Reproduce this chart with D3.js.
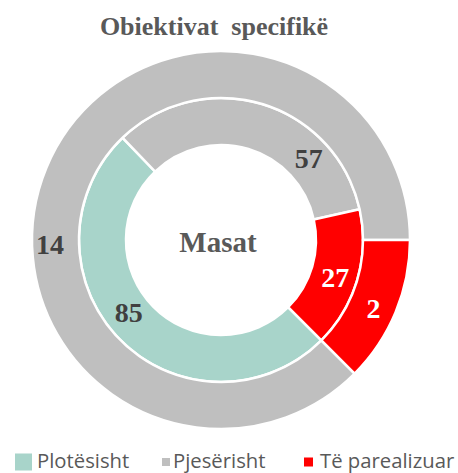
<!DOCTYPE html>
<html>
<head>
<meta charset="utf-8">
<script src="https://cdn.jsdelivr.net/npm/d3@7/dist/d3.min.js"></script>
<style>
  html, body { margin: 0; padding: 0; background: #fff; }
  svg { display: block; }
</style>
</head>
<body>
<svg id="chart" width="458" height="473"></svg>
<script>
// ---- data ----
const categories = ["Plotësisht", "Pjesërisht", "Të parealizuar"];
const innerValues = [85, 57, 27];   // Masat
const outerValues = [0, 14, 2];     // Obiektivat specifikë
const titleText = "Obiektivat  specifikë";
const centerText = "Masat";

// ---- layout / style config ----
const colors = ["#A8D4CA", "#BFBFBF", "#FF0000"];
const labelColors = ["#404040", "#404040", "#FFFFFF"];
const cx = 221, cy = 240;
const rHole = 95, rMid = 142, rOuter = 189;
const startDeg = 135;
// manual label placement (angle in degrees clockwise from top, radius)
const innerLabelPlace = [[232, 117], [47, 120], [108, 120]];
const outerLabelPlace = [null, [268.7, 171], [114, 167]];

const svg = d3.select("#chart");
const g = svg.append("g").attr("transform", `translate(${cx},${cy})`);

const rad = d => d * Math.PI / 180;
const pie = d3.pie().sort(null).value(d => d)
  .startAngle(rad(startDeg)).endAngle(rad(startDeg) + 2 * Math.PI);

function ring(values, r0, r1, places) {
  const arc = d3.arc().innerRadius(r0).outerRadius(r1);
  const arcs = pie(values);
  g.append("g").selectAll("path").data(arcs).join("path")
    .attr("d", arc)
    .attr("fill", (d, i) => colors[i])
    .attr("stroke", "#fff")
    .attr("stroke-width", d => d.value > 0 ? 2.5 : 0);
  g.append("g").selectAll("text").data(arcs.filter(d => d.value > 0)).join("text")
    .attr("transform", d => {
      const p = places[d.index];
      const pt = p ? d3.pointRadial(rad(p[0]), p[1]) : arc.centroid(d);
      return `translate(${pt[0]},${pt[1]})`;
    })
    .attr("text-anchor", "middle")
    .attr("dy", "0.35em")
    .attr("font-family", "'Liberation Serif', 'Times New Roman', serif")
    .attr("font-weight", "bold")
    .attr("font-size", 28)
    .attr("fill", d => labelColors[d.index])
    .text(d => d.value);
}

ring(innerValues, rHole, rMid, innerLabelPlace);
ring(outerValues, rMid, rOuter, outerLabelPlace);

// center label
g.append("text")
  .attr("x", -3).attr("y", 2)
  .attr("text-anchor", "middle").attr("dy", "0.35em")
  .attr("font-family", "'Liberation Serif', 'Times New Roman', serif")
  .attr("font-weight", "bold").attr("font-size", 29)
  .attr("fill", "#595959")
  .text(centerText);

// title
svg.append("text")
  .attr("x", 214).attr("y", 35)
  .attr("text-anchor", "middle")
  .attr("xml:space", "preserve")
  .style("white-space", "pre")
  .attr("font-family", "'Liberation Serif', 'Times New Roman', serif")
  .attr("font-weight", "bold").attr("font-size", 26)
  .attr("fill", "#595959")
  .text(titleText);

// legend
const legendX = [15, 162, 304];
const legendSize = [17, 8, 9];
const legendTextX = [37, 173, 320];
const lg = svg.append("g");
categories.forEach((c, i) => {
  const s = legendSize[i];
  lg.append("rect")
    .attr("x", legendX[i]).attr("y", 462 - s / 2)
    .attr("width", s).attr("height", s)
    .attr("fill", colors[i]);
  lg.append("text")
    .attr("x", legendTextX[i]).attr("y", 467.5)
    .attr("font-family", "'Open Sans', sans-serif")
    .attr("font-size", 20.3)
    .attr("fill", "#595959")
    .text(c);
});
</script>
</body>
</html>
